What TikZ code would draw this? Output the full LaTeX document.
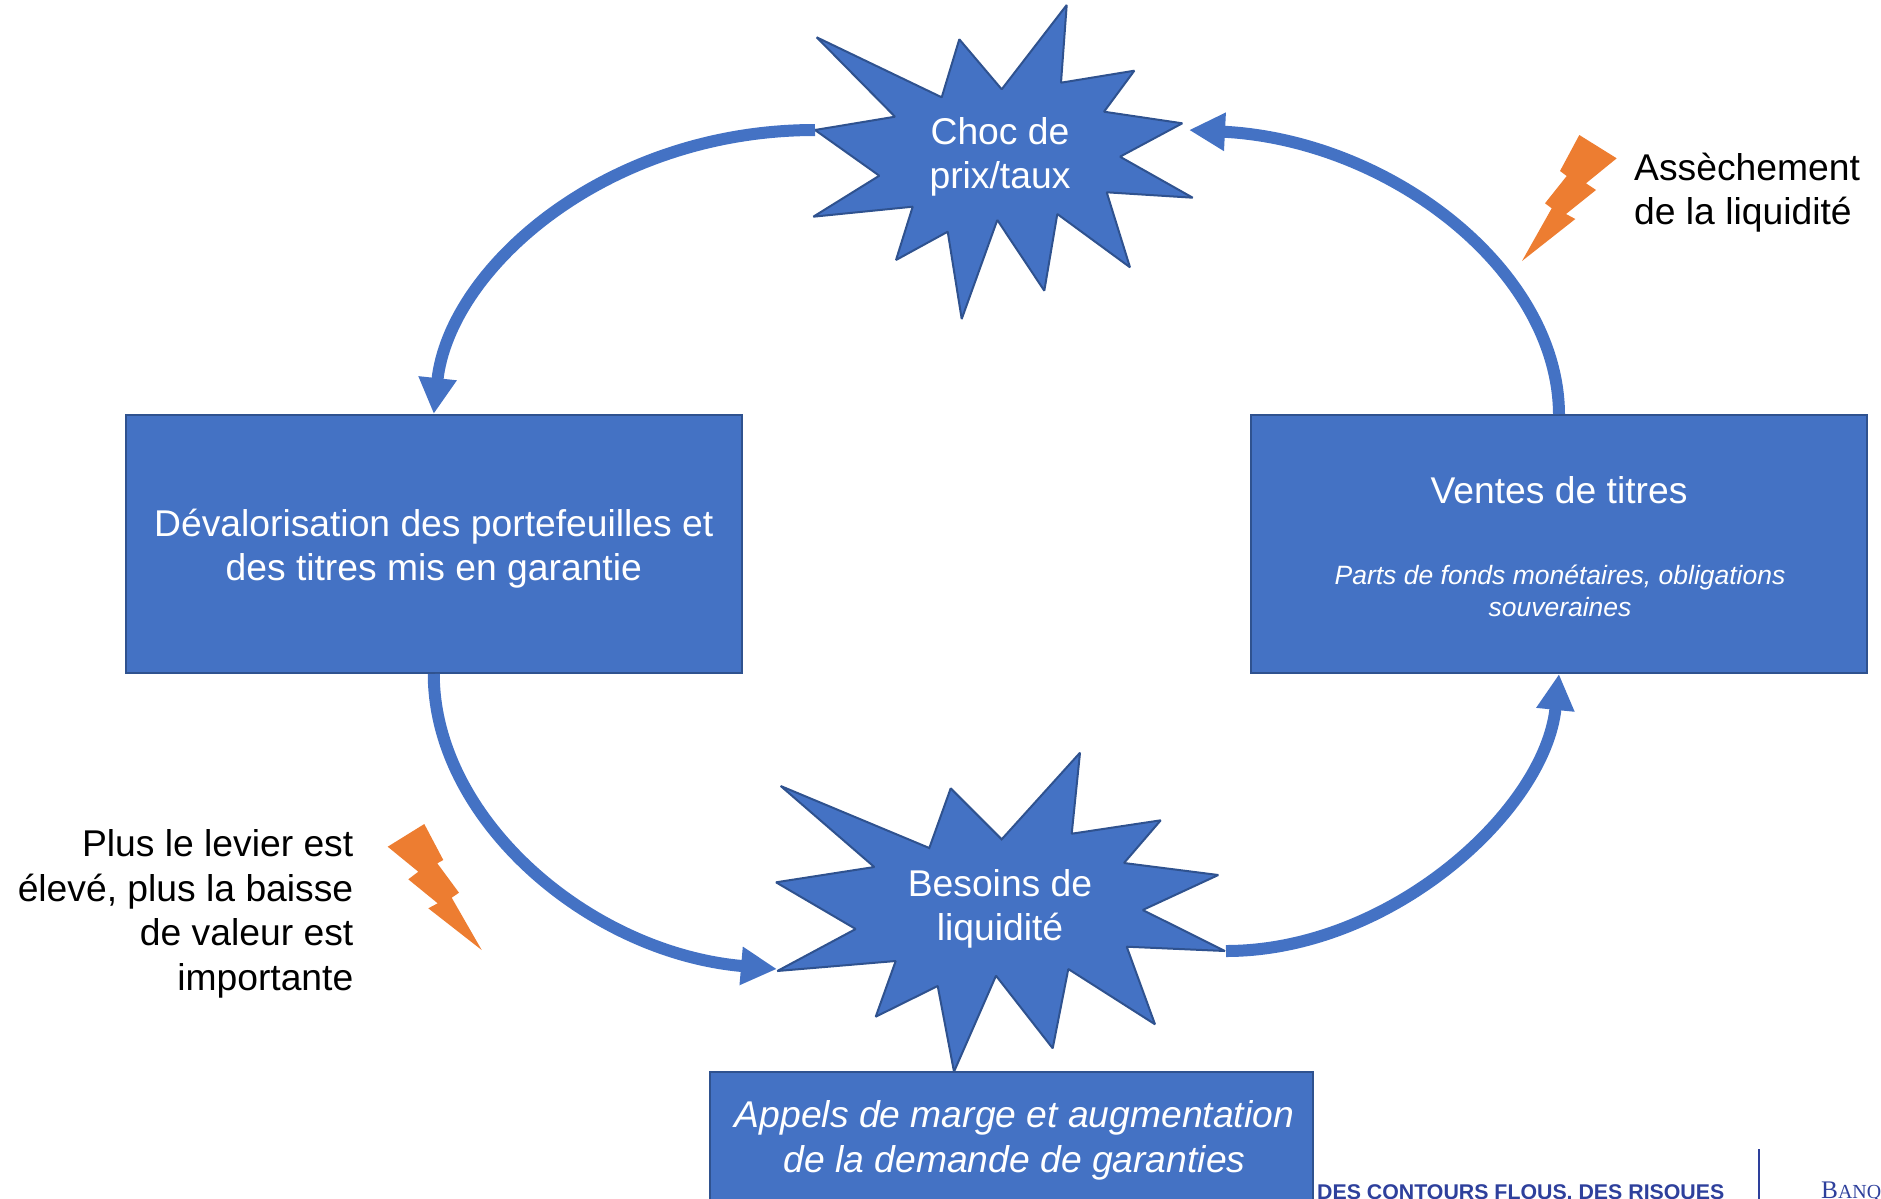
\documentclass[tikz,border=0pt]{standalone}
\usepackage{fontspec}
\setmainfont{Liberation Sans}
\newfontfamily\bdfserif{Liberation Serif}
\usetikzlibrary{arrows.meta}
\definecolor{fillblue}{HTML}{4472C4}
\definecolor{edgeblue}{HTML}{2F528F}
\definecolor{boltorange}{HTML}{ED7D31}
\definecolor{bdfblue}{HTML}{2E409C}
\tikzset{
  box/.style={draw=edgeblue,line width=2bp,fill=fillblue,inner sep=0pt},
  burst/.style={draw=edgeblue,line width=2bp,fill=fillblue,line join=miter,miter limit=1.5},
  bolt/.style={fill=boltorange,draw=none},
  whitetxt/.style={text=white,inner sep=0pt,align=center,font=\fontsize{37.4}{44.6}\selectfont},
  blacktxt/.style={text=black,inner sep=0pt,font=\fontsize{37.4}{44.6}\selectfont},
  smallit/.style={text=white,inner sep=0pt,align=center,font=\fontsize{26.6}{32.1}\selectfont\itshape},
  flow/.style={draw=fillblue,line width=12bp,-{Triangle[length=36bp,width=36bp]}},
}
\begin{document}
\begin{tikzpicture}[x=1bp,y=-1bp]
\useasboundingbox (0,0) rectangle (1881,1198);
\clip (0,0) rectangle (1881,1198);
% boxes
\node[box,minimum width=615.5bp,minimum height=258bp] (devalo) at (433.75,544) {};
\node[whitetxt] (devalotxt) at (433.75,548.5) {D\'evalorisation des portefeuilles et\\des titres mis en garantie};
\node[box,minimum width=616bp,minimum height=258bp] (ventes) at (1559,544) {};
\node[whitetxt] (ventestitre) at (1559,490.5) {Ventes de titres};
\node[smallit] (ventessous) at (1560,590.5) {Parts de fonds mon\'etaires, obligations\\souveraines};
\node[box,minimum width=603bp,minimum height=136bp] (appels) at (1011.5,1140) {};
\node[whitetxt,font=\fontsize{37.4}{44.6}\selectfont\itshape] (appelstxt) at (1014.5,1140.5) {Appels de marge et augmentation\\de la demande de garanties};
% bursts
\draw[burst] (815,130)--(895,116.7)--(816.7,37.3)--(941.7,97.3)--(959.3,39.3)--(1001.7,89.3)--(1066.7,5)--(1061,82.7)--(1134.3,70.7)--(1104,111.7)--(1182.3,123.3)--(1120,156.7)--(1192.7,197.7)--(1106.7,192.3)--(1130,267.3)--(1057.3,214)--(1044.3,290.7)--(997.3,220)--(961.7,319)--(947.7,231.7)--(896,260)--(912.7,206.7)--(813.3,216.7)--(879.3,175.7)--cycle;
\draw[burst] (776,882.3)--(874.3,867)--(780.7,786)--(929.3,848)--(950.7,788.3)--(1001.7,839.3)--(1080,752.7)--(1071.7,833.7)--(1160.7,820.3)--(1124,863)--(1218.3,875)--(1142.7,910)--(1225,951)--(1126.7,946.7)--(1155,1024.3)--(1068.3,969)--(1052.7,1048.3)--(996,975.7)--(954,1071.7)--(937.7,986)--(875.7,1016.7)--(895.7,961)--(777.3,971)--(855.7,929)--cycle;
\node[whitetxt] (choc) at (1000,157) {Choc de\\prix/taux};
\node[whitetxt] (besoins) at (1000,909) {Besoins de\\liquidit\'e};
% connector ends on the bursts
\coordinate (chocL) at (815,130);
\coordinate (chocR) at (1189,130);
\coordinate (besoinsL) at (777,969);
\coordinate (besoinsR) at (1226,951);
% connectors
\draw[flow] (chocL) .. controls (605,130) and (449.4,269) .. (devalo.north);
\draw[flow] (devalo.south) .. controls (434,820) and (590,953) .. (besoinsL);
\draw[flow] (besoinsR) .. controls (1391,951) and (1545.2,810) .. (ventes.south);
\draw[flow] (ventes.north) .. controls (1558,270) and (1390,140) .. (chocR);
% bolts
\fill[bolt] (1579.3,135)--(1616.7,158.3)--(1586,183.3)--(1596,190)--(1566,214)--(1575.3,219)--(1522,261)--(1551.7,208.3)--(1545,203.3)--(1566.7,176)--(1560,171)--cycle;
\fill[bolt] (424.3,824)--(443.3,860)--(437.3,863.3)--(459,892.7)--(451.7,897.7)--(481.7,950)--(428.3,908.3)--(437.7,903.3)--(408.3,879.3)--(418.3,871.7)--(387.7,846.7)--cycle;
% side labels
\node[blacktxt,align=left,anchor=west] (assech) at (1634,192.5) {Ass\`echement\\de la liquidit\'e};
\node[blacktxt,align=right,anchor=east] (levier) at (353.5,914) {Plus le levier est\\\'elev\'e, plus la baisse\\de valeur est\\importante};
% footer
\node[anchor=base west,inner sep=0pt,text=bdfblue,font=\fontsize{21.4}{25}\selectfont\bfseries] (footer) at (1317,1199) {DES CONTOURS FLOUS, DES RISQUES};
\coordinate (sepTop) at (1759,1149);
\coordinate (sepBot) at (1759,1200);
\draw[bdfblue,line width=2bp] (sepTop) -- (sepBot);
\node[anchor=base west,inner sep=0pt,text=bdfblue,font=\bdfserif] (banque) at (1821,1198) {\fontsize{25.4}{25.4}\selectfont B\fontsize{20}{20}\selectfont ANQ};
\end{tikzpicture}
\end{document}
